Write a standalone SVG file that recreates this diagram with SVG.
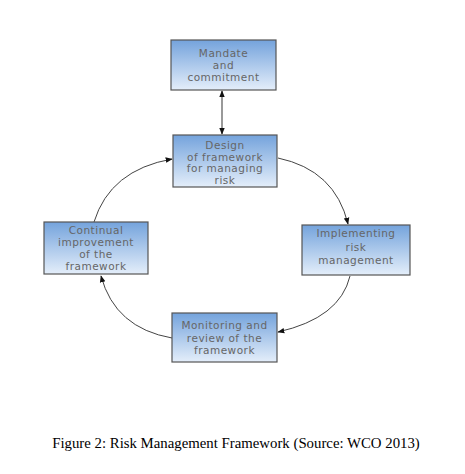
<svg xmlns="http://www.w3.org/2000/svg" width="465" height="474" viewBox="0 0 465 474">
<defs>
<linearGradient id="g" x1="0" y1="0" x2="0" y2="1">
<stop offset="0" stop-color="#74a3dc"/>
<stop offset="1" stop-color="#e4eefa"/>
</linearGradient>
<marker id="ah" viewBox="0 0 10 10" refX="9" refY="5" markerWidth="7" markerHeight="7" orient="auto-start-reverse" markerUnits="userSpaceOnUse">
<path d="M0,1 L10,5 L0,9 z" fill="#111"/>
</marker>
<style>
.box{fill:url(#g);stroke:#555;stroke-width:1.2}
.t{font-family:"DejaVu Sans",sans-serif;font-size:10.5px;fill:#666;text-anchor:middle;letter-spacing:0.5px}
.c{fill:none;stroke:#444;stroke-width:1}
.cap{font-family:"Liberation Serif",serif;font-size:14.8px;fill:#000;text-anchor:middle}
</style>
</defs>
<rect width="465" height="474" fill="#fff"/>
<g id="connectors">
<line x1="222" y1="91" x2="222" y2="134" stroke="#999" stroke-width="2" marker-start="url(#ah)" marker-end="url(#ah)"/>
<path class="c" d="M278,158 Q335,170 348,224" marker-end="url(#ah)"/>
<path class="c" d="M350,276 Q340,318 278,332" marker-end="url(#ah)"/>
<path class="c" d="M172,338 Q115,328 101,276" marker-end="url(#ah)"/>
<path class="c" d="M94,222 Q110,170 172,159" marker-end="url(#ah)"/>
</g>
<g id="mandate">
<rect class="box" x="171" y="40" width="105" height="50"/>
<text class="t" x="223.5" y="57">Mandate</text>
<text class="t" x="223.5" y="69">and</text>
<text class="t" x="223.5" y="81">commitment</text>
</g>
<g id="design">
<rect class="box" x="173" y="135" width="104" height="52"/>
<text class="t" x="225" y="149">Design</text>
<text class="t" x="225" y="161">of framework</text>
<text class="t" x="225" y="172">for managing</text>
<text class="t" x="225" y="184">risk</text>
</g>
<g id="continual">
<rect class="box" x="44" y="222" width="104" height="52"/>
<text class="t" x="96" y="234">Continual</text>
<text class="t" x="96" y="246">improvement</text>
<text class="t" x="96" y="258">of the</text>
<text class="t" x="96" y="270">framework</text>
</g>
<g id="implementing">
<rect class="box" x="302" y="225" width="108" height="50"/>
<text class="t" x="356" y="237">Implementing</text>
<text class="t" x="356" y="251">risk</text>
<text class="t" x="356" y="264">management</text>
</g>
<g id="monitoring">
<rect class="box" x="172" y="313" width="105" height="49"/>
<text class="t" x="224.5" y="329">Monitoring and</text>
<text class="t" x="224.5" y="342">review of the</text>
<text class="t" x="224.5" y="354">framework</text>
</g>
<text class="cap" x="236" y="448">Figure 2: Risk Management Framework (Source: WCO 2013)</text>
</svg>
